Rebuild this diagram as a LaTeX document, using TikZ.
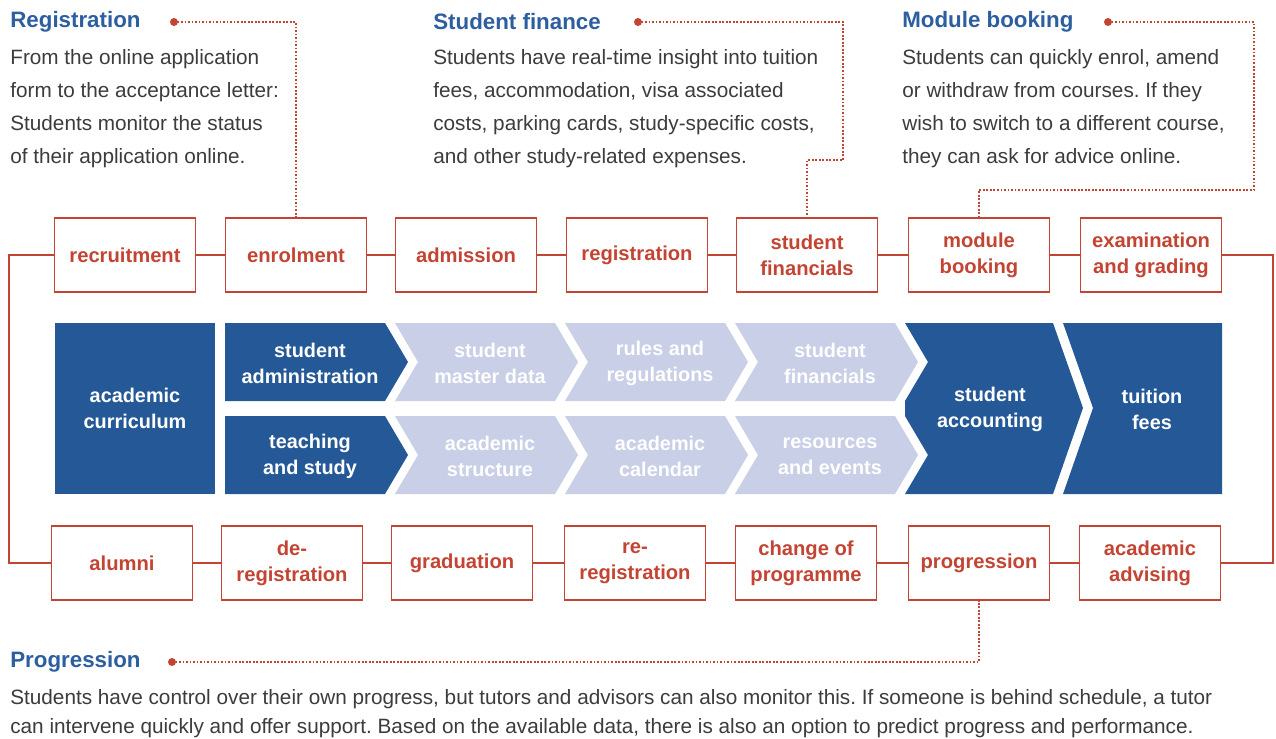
\documentclass[tikz,border=0pt]{standalone}
\usepackage{fontspec}
\setmainfont{Liberation Sans}
\usetikzlibrary{positioning}
\definecolor{boxred}{RGB}{196,68,52}
\definecolor{deepblue}{RGB}{37,88,150}
\definecolor{paleblue}{RGB}{200,207,230}
\definecolor{titleblue}{RGB}{45,95,160}
\definecolor{bodygray}{RGB}{60,60,60}
\frenchspacing

\begin{document}
\begin{tikzpicture}[x=0.02cm, y=-0.02cm]
    \tikzstyle{stage} = [rectangle, draw=boxred, line width=1pt, minimum width=2.82cm, minimum height=1.48cm, align=center, text=boxred, font=\fontsize{11.5}{15}\selectfont\bfseries]
    \tikzstyle{link} = [draw=boxred, line width=1pt]
    \tikzstyle{callout} = [draw=boxred, line width=0.9pt, dash pattern=on 1pt off 1pt]
    \tikzstyle{dot} = [circle, fill=boxred, inner sep=0pt, minimum size=0.16cm]
    \tikzstyle{title} = [anchor=west, inner sep=0pt, text=titleblue, font=\fontsize{12.7}{15}\selectfont\bfseries]
    \tikzstyle{body} = [anchor=north west, inner sep=0pt, align=left, text=bodygray, font=\fontsize{11.8}{18.8}\selectfont]
    \tikzstyle{band} = [align=center, text=white, font=\fontsize{11.3}{14.8}\selectfont\bfseries]
    \tikzstyle{dark} = [fill=deepblue]
    \tikzstyle{pale} = [fill=paleblue]

    \fill[white] (0,0) rectangle (1276,738);

    \node[stage] (recruit) at (125,255) {recruitment};
    \node[stage] (enrol) at (296,255) {enrolment};
    \node[stage] (admit) at (466,255) {admission};
    \node[stage] (regist) at (637,255) {registration};
    \node[stage] (finance) at (807,255) {student\\financials};
    \node[stage] (modbook) at (979,255) {module\\booking};
    \node[stage] (exam) at (1151,255) {examination\\and grading};

    \node[stage] (alumni) at (122,563) {alumni};
    \node[stage] (dereg) at (292,563) {de-\\registration};
    \node[stage] (grad) at (462,563) {graduation};
    \node[stage] (rereg) at (635,563) {re-\\registration};
    \node[stage] (change) at (806,563) {change of\\programme};
    \node[stage] (progress) at (979,563) {progression};
    \node[stage] (advise) at (1150,563) {academic\\advising};

    \draw[link] (recruit) -- (enrol);
    \draw[link] (enrol) -- (admit);
    \draw[link] (admit) -- (regist);
    \draw[link] (regist) -- (finance);
    \draw[link] (finance) -- (modbook);
    \draw[link] (modbook) -- (exam);
    \draw[link] (alumni) -- (dereg);
    \draw[link] (dereg) -- (grad);
    \draw[link] (grad) -- (rereg);
    \draw[link] (rereg) -- (change);
    \draw[link] (change) -- (progress);
    \draw[link] (progress) -- (advise);
    \draw[link] (recruit.west) -- ++(-45,0) |- (alumni.west);
    \draw[link] (exam.east) -- ++(51,0) |- (advise.east);

    \fill[dark] (55,323) rectangle (215,494);
    \node[band] (curric) at (135,408) {academic\\curriculum};
    \fill[dark] (225,323) -- (385,323) -- (408,362) -- (385,401) -- (225,401) -- cycle;
    \node[band] (stadmin) at (310,363) {student\\administration};
    \fill[dark] (225,416) -- (385,416) -- (408,455) -- (385,494) -- (225,494) -- cycle;
    \node[band] (teach) at (310,456) {teaching\\and study};

    \fill[pale] (395,323) -- (555,323) -- (578,362) -- (555,401) -- (395,401) -- (418,362) -- cycle;
    \node[band] (master) at (490,363) {student\\master data};
    \fill[pale] (565,323) -- (725,323) -- (748,362) -- (725,401) -- (565,401) -- (588,362) -- cycle;
    \node[band] (rules) at (660,363) {rules and\\regulations};
    \fill[pale] (735,323) -- (895,323) -- (918,362) -- (895,401) -- (735,401) -- (758,362) -- cycle;
    \node[band] (stfin) at (830,363) {student\\financials};
    \fill[pale] (395,416) -- (555,416) -- (578,455) -- (555,494) -- (395,494) -- (418,455) -- cycle;
    \node[band] (struct) at (490,456) {academic\\structure};
    \fill[pale] (565,416) -- (725,416) -- (748,455) -- (725,494) -- (565,494) -- (588,455) -- cycle;
    \node[band] (calendar) at (660,456) {academic\\calendar};
    \fill[pale] (735,416) -- (895,416) -- (918,455) -- (895,494) -- (735,494) -- (758,455) -- cycle;
    \node[band] (events) at (830,456) {resources\\and events};

    \fill[dark] (905,323) -- (1053,323) -- (1083,408) -- (1053,494) -- (905,494) -- (928,455) -- (905,416) -- (905,401) -- (928,362) -- cycle;
    \node[band] (account) at (990,409) {student\\accounting};
    \fill[dark] (1063,323) -- (1222,323) -- (1222,494) -- (1063,494) -- (1093,408) -- cycle;
    \node[band] (fees) at (1152,409) {tuition\\fees};

    \node[title] (regtitle) at (10,22) {Registration};
    \node[body] (regtext) at (10,49) {From the online application\\form to the acceptance letter:\\Students monitor the status\\of their application online.};
    \draw[callout] (174,22) -| (enrol.north);
    \node[dot] (regdot) at (174,22) {};

    \node[title] (fintitle) at (433,22) {Student finance};
    \node[body] (fintext) at (433,49) {Students have real-time insight into tuition\\fees, accommodation, visa associated\\costs, parking cards, study-specific costs,\\and other study-related expenses.};
    \draw[callout] (638,22) -| (843,160) -| (finance.north);
    \node[dot] (findot) at (638,22) {};

    \node[title] (modtitle) at (902,22) {Module booking};
    \node[body] (modtext) at (902,49) {Students can quickly enrol, amend\\or withdraw from courses. If they\\wish to switch to a different course,\\they can ask for advice online.};
    \draw[callout] (1108,22) -| (1254,190) -| (modbook.north);
    \node[dot] (moddot) at (1108,22) {};

    \node[title] (progtitle) at (10,662) {Progression};
    \node[body, font=\fontsize{11.8}{16.6}\selectfont] (progtext) at (10,689) {Students have control over their own progress, but tutors and advisors can also monitor this. If someone is behind schedule, a tutor\\can intervene quickly and offer support. Based on the available data, there is also an option to predict progress and performance.};
    \draw[callout] (172,662) -| (progress.south);
    \node[dot] (progdot) at (172,662) {};
\end{tikzpicture}
\end{document}
